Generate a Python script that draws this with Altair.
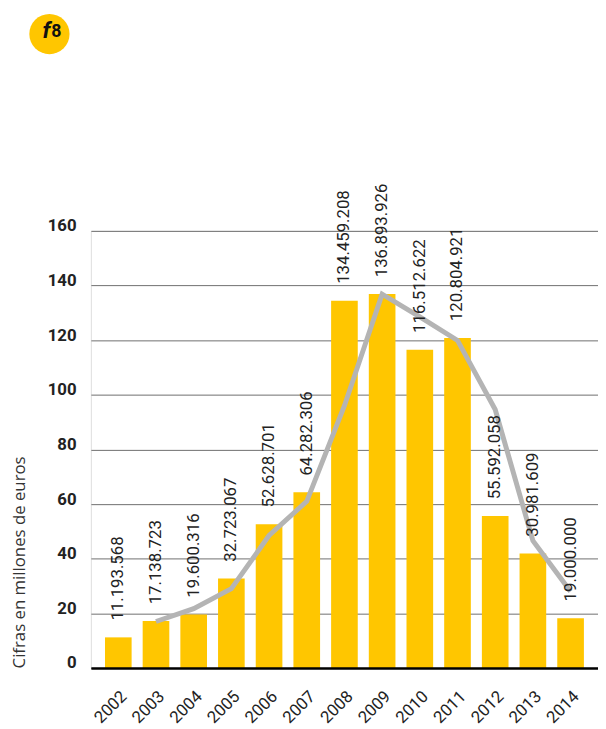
import altair as alt
import pandas as pd

years = ["2002", "2003", "2004", "2005", "2006", "2007", "2008",
         "2009", "2010", "2011", "2012", "2013", "2014"]
bar_values = [11.19, 17.14, 19.60, 32.72, 52.63, 64.28, 134.46,
              136.89, 116.51, 120.80, 55.59, 41.9, 18.2]
bar_labels = ["11.193.568", "17.138.723", "19.600.316", "32.723.067",
              "52.628.701", "64.282.306", "134.459.208", "136.893.926",
              "116.512.622", "120.804.921", "55.592.058", "30.981.609",
              "19.000.000"]
line_years = years[1:]
line_values = [17.0, 21.7, 29.0, 48.5, 61.0, 96.0, 136.8,
               128.5, 119.9, 94.6, 46.6, 28.0]
y_ticks = [0, 20, 40, 60, 80, 100, 120, 140, 160]

bars_df = pd.DataFrame({"year": years, "value": bar_values, "label": bar_labels})
line_df = pd.DataFrame({"year": line_years, "value": line_values})
badge_df = pd.DataFrame({"t": ["f8"]})

YELLOW = "#FFC600"

x_scale = alt.Scale(domain=years, paddingInner=0.293, paddingOuter=0.374, align=0.5)
y_scale = alt.Scale(domain=[0, 160], nice=False)

x_axis = alt.Axis(
    title=None, labelAngle=-45, labelAlign="right", labelBaseline="middle",
    labelPadding=26, labelOffset=6, ticks=False, tickSize=0, domain=True,
    domainColor="#000000", domainWidth=2.5, labelFont="Roboto",
    labelFontSize=17, labelColor="#222222", grid=False, zindex=1,
)
y_axis = alt.Axis(
    title="Cifras en millones de euros", values=y_ticks, ticks=False, tickSize=0,
    domain=False, grid=True, gridColor="#6E6E6E", gridWidth=1,
    labelFont="Roboto", labelFontWeight="bold", labelFontSize=17,
    labelColor="#222222", labelPadding=15, labelBaseline="alphabetic",
    titleFont="Open Sans", titleFontSize=17, titleFontWeight="normal",
    titleColor="#333333", titleAngle=270, titleX=-72, titleY=443,
    titleAlign="left", titleBaseline="middle",
)

bars = alt.Chart(bars_df).mark_bar(color=YELLOW).encode(
    x=alt.X("year:N", scale=x_scale, axis=x_axis, sort=years),
    y=alt.Y("value:Q", scale=y_scale, axis=y_axis),
)

line = alt.Chart(line_df).mark_line(color="#B4B4B4", strokeWidth=5).encode(
    x=alt.X("year:N", scale=x_scale, sort=years),
    y=alt.Y("value:Q", scale=y_scale),
)

labels = alt.Chart(bars_df).mark_text(
    angle=270, align="left", baseline="middle", dx=17,
    font="Roboto", fontSize=17, color="#222222",
).encode(
    x=alt.X("year:N", scale=x_scale, sort=years),
    y=alt.Y("value:Q", scale=y_scale),
    text="label:N",
)

badge = alt.Chart(badge_df).mark_circle(color=YELLOW, opacity=1, size=1662).encode(
    x=alt.value(-42), y=alt.value(-199.5)
)
badge_f = alt.Chart(badge_df).mark_text(
    text="f", font="Roboto", fontSize=23, fontWeight="bold", fontStyle="italic",
    color="#111111", align="center", baseline="alphabetic",
).encode(x=alt.value(-45), y=alt.value(-195))
badge_8 = alt.Chart(badge_df).mark_text(
    text="8", font="Roboto", fontSize=18, fontWeight="bold",
    color="#111111", align="center", baseline="alphabetic",
).encode(x=alt.value(-35), y=alt.value(-196))

chart = alt.layer(bars, line, labels, badge, badge_f, badge_8).properties(
    width=514, height=443,
    autosize=alt.AutoSizeParams(type="none"),
    padding={"left": 84, "top": 221, "right": 0, "bottom": 57},
).configure_view(stroke=None).configure(background="white")

chart.save("out.html", embed_options={"renderer": "svg", "actions": False})
